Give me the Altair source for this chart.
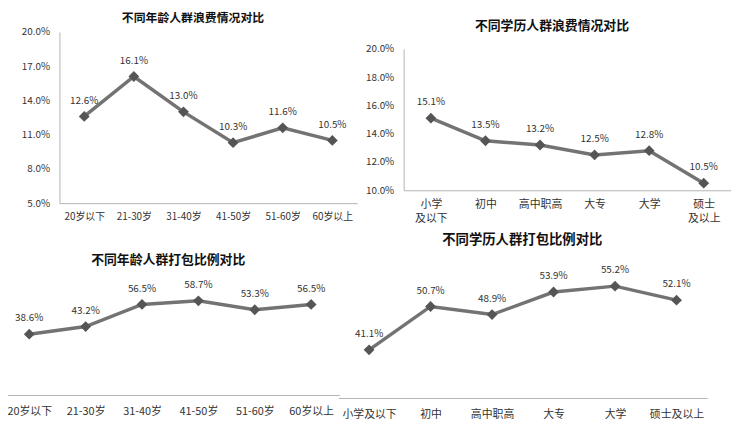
import altair as alt
import pandas as pd

# ---- data ----
ages = ["20岁以下", "21-30岁", "31-40岁", "41-50岁", "51-60岁", "60岁以上"]
waste_age = [12.6, 16.1, 13.0, 10.3, 11.6, 10.5]

edu = ["小学及以下", "初中", "高中职高", "大专", "大学", "硕士及以上"]
waste_edu = [15.1, 13.5, 13.2, 12.5, 12.8, 10.5]

pack_age = [38.6, 43.2, 56.5, 58.7, 53.3, 56.5]
pack_edu = [41.1, 50.7, 48.9, 53.9, 55.2, 52.1]

titles = ["不同年龄人群浪费情况对比", "不同学历人群浪费情况对比",
          "不同年龄人群打包比例对比", "不同学历人群打包比例对比"]

age_ticks = [5, 8, 11, 14, 17, 20]
edu_ticks = [10, 12, 14, 16, 18, 20]

# ---- style ----
FONT = "Noto Sans CJK SC"
LINE = "#737373"
MARK = "#555555"
AXIS = "#b3b3b3"
TXT = "#333333"
W, H = 731, 414


def panel(cats, vals, xrange, ydomain, yrange, axis_y, yaxis=None,
          label_expr=None, label_pad=8, label_size=10):
    df = pd.DataFrame({"cat": cats, "v": vals})
    base = alt.Chart(df).transform_calculate(
        lab="format(datum.v, '.1f') + '%'"
    )
    xaxis_kw = dict(orient="bottom", offset=axis_y - H, title=None, ticks=False,
                    tickSize=0, labelAngle=0, labelPadding=label_pad,
                    labelFont=FONT, labelFontSize=label_size, labelColor=TXT,
                    domainColor=AXIS, domainWidth=1, grid=False, labelLineHeight=15)
    if label_expr:
        xaxis_kw["labelExpr"] = label_expr
    x = alt.X("cat:N", sort=cats, axis=alt.Axis(**xaxis_kw),
              scale=alt.Scale(type="point", padding=0.5, range=xrange))
    y = alt.Y("v:Q", axis=yaxis,
              scale=alt.Scale(domain=ydomain, range=yrange, zero=False, nice=False))
    line = base.mark_line(color=LINE, strokeWidth=3.5).encode(x=x, y=y)
    pts = base.mark_point(shape="diamond", filled=True, size=120, color=MARK,
                          opacity=1).encode(x=x, y=y)
    txt = base.mark_text(dy=-16, fontSize=10, font=FONT, color=TXT).encode(
        x=x, y=y, text="lab:N")
    return alt.layer(line, pts, txt)


def yaxis(offset, values):
    return alt.Axis(orient="left", offset=offset, values=values, title=None,
                    ticks=False, tickSize=0, grid=False, labelPadding=10,
                    labelFont=FONT, labelFontSize=10, labelColor=TXT,
                    domainColor=AXIS, domainWidth=1,
                    labelExpr="format(datum.value, '.1f') + '%'")


def title(text, cx, cy, size):
    return alt.Chart(pd.DataFrame({"t": [text]})).mark_text(
        font=FONT, fontSize=size, fontWeight="bold", color="#111111"
    ).encode(x=alt.value(cx), y=alt.value(cy), text="t:N")


p1 = panel(ages, waste_age, [52, 353], [5, 20], [195, 22], 195,
           yaxis=yaxis(-52, age_ticks), label_pad=9, label_size=10)
p2 = panel(edu, waste_edu, [400, 731], [10, 20], [182, 39], 182,
           yaxis=yaxis(-400, edu_ticks), label_pad=8, label_size=11,
           label_expr="datum.label == '小学及以下' ? ['小学', '及以下'] : "
                      "datum.label == '硕士及以上' ? ['硕士', '及以上'] : datum.label")
p3 = panel(ages, pack_age, [-7, 335], [2, 72], [389, 271.4], 389,
           label_pad=11, label_size=11)
p4 = panel(edu, pack_edu, [334, 707], [30, 60], [394, 257], 392,
           label_pad=11, label_size=11)

chart = alt.layer(
    p1, p2, p3, p4,
    title(titles[0], 187, 8, 12),
    title(titles[1], 550, 16, 13),
    title(titles[2], 162, 253, 13),
    title(titles[3], 520, 232, 13.5),
).resolve_scale(x="independent", y="independent").properties(
    width=W, height=H, padding=0, autosize="none", background="white"
).configure_view(stroke=None)

chart.save("out.html", embed_options={"renderer": "svg", "actions": False})
